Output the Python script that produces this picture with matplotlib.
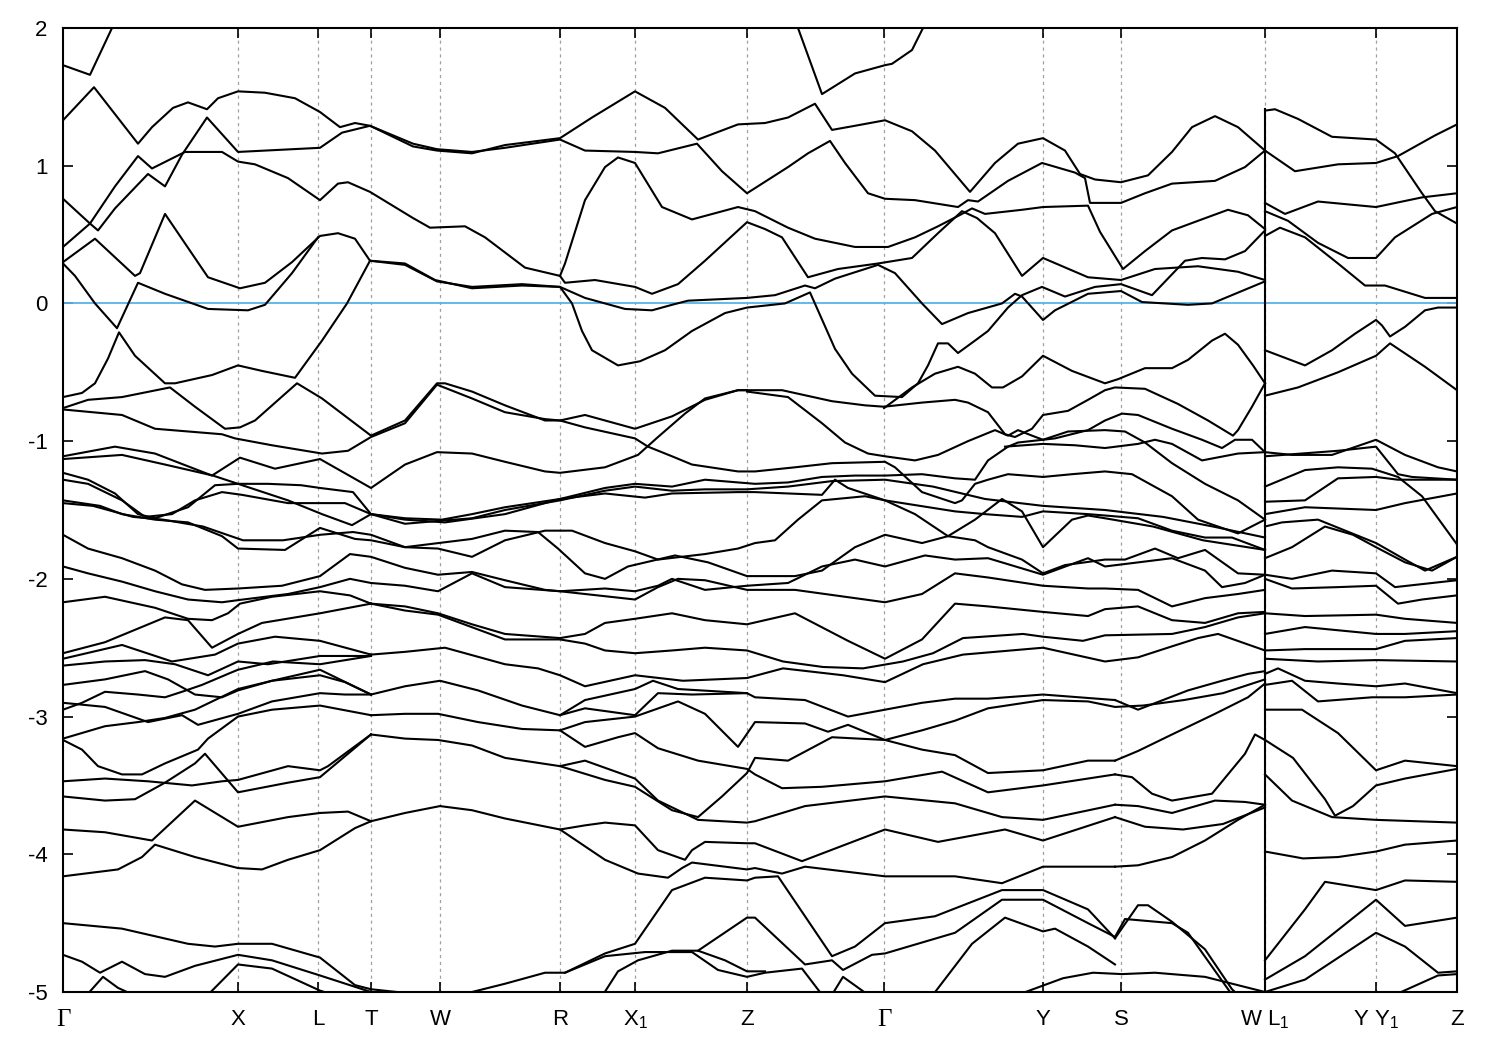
import matplotlib
matplotlib.use('Agg')
import matplotlib.pyplot as plt

plt.rcParams['font.family'] = ['Liberation Sans', 'DejaVu Sans']
plt.rcParams['axes.unicode_minus'] = False
plt.rcParams['mathtext.fontset'] = 'custom'
plt.rcParams['mathtext.rm'] = 'Liberation Sans'
plt.rcParams['mathtext.it'] = 'Liberation Sans'

# k-path (k-point index) of the high-symmetry points
k_ticks = [0, 175, 255, 308, 377, 497, 572, 684, 821, 980, 1058, 1202, 1313, 1394]
k_labels = ['Γ', 'X', 'L', 'T', 'W', 'R', 'X$_1$', 'Z', 'Γ', 'Y', 'S', 'W L$_1$', 'Y Y$_1$', 'Z']
e_fermi = 0.0
e_min, e_max = -5.0, 2.0
jump_edges = [1.41, -5.0]   # W|L1 discontinuity

# bands around the Fermi level, (k, E in eV)
bands_upper = [
    [(0, 1.73), (27, 1.66), (49, 2.0), (55, 2.15)],
    [(0, 1.33), (31, 1.57), (75, 1.16), (89, 1.28), (110, 1.42), (125, 1.46), (144, 1.41), (155, 1.49), (175, 1.54),
     (202, 1.53), (232, 1.49), (257, 1.39), (277, 1.28), (292, 1.31), (307, 1.29), (350, 1.14), (374, 1.11), (409, 1.09),
     (442, 1.15), (497, 1.20), (529, 1.35), (572, 1.54), (602, 1.42), (635, 1.19), (675, 1.30), (702, 1.31), (725, 1.35),
     (752, 1.45), (769, 1.26), (792, 1.29), (822, 1.33), (849, 1.25), (872, 1.11), (907, 0.81), (932, 1.02), (955, 1.16),
     (980, 1.20), (1002, 1.11), (1017, 0.94), (1032, 0.90), (1058, 0.88), (1085, 0.93), (1109, 1.10), (1129, 1.28),
     (1152, 1.36), (1175, 1.28), (1202, 1.11)],
    [(0, 0.76), (27, 0.58), (35, 0.53), (52, 0.69), (85, 0.94), (102, 0.85), (119, 1.08), (144, 1.35), (175, 1.10),
     (257, 1.13), (279, 1.24), (307, 1.29), (350, 1.16), (374, 1.12), (409, 1.10), (442, 1.13), (497, 1.19), (522, 1.11),
     (572, 1.10), (595, 1.09), (634, 1.16), (659, 0.96), (684, 0.80), (725, 0.99), (745, 1.09), (767, 1.18), (782, 1.02),
     (805, 0.80), (822, 0.76), (852, 0.75), (895, 0.70), (905, 0.75), (915, 0.74), (945, 0.89), (979, 1.02), (1012, 0.95),
     (1022, 0.91), (1027, 0.73), (1058, 0.73), (1082, 0.80), (1109, 0.87), (1152, 0.89), (1182, 0.99), (1202, 1.11)],
    [(0, 0.41), (27, 0.58), (52, 0.85), (75, 1.07), (89, 0.98), (122, 1.10), (159, 1.10), (175, 1.03), (192, 1.01),
     (225, 0.91), (257, 0.75), (275, 0.87), (285, 0.88), (307, 0.81), (350, 0.62), (367, 0.55), (402, 0.56), (422, 0.48),
     (462, 0.26), (497, 0.20), (502, 0.15), (532, 0.17), (572, 0.12), (589, 0.07), (615, 0.14), (642, 0.31), (684, 0.59),
     (702, 0.54), (719, 0.48), (745, 0.19), (775, 0.25), (815, 0.29), (849, 0.33), (875, 0.51), (899, 0.67), (914, 0.62),
     (932, 0.51), (959, 0.20), (980, 0.33), (1025, 0.19), (1058, 0.17), (1092, 0.25), (1135, 0.27), (1175, 0.23),
     (1202, 0.17)],
    [(307, 0.31), (342, 0.29), (372, 0.17), (409, 0.11), (459, 0.13), (497, 0.12), (522, 0.04), (542, 0.0),
     (562, -0.04), (589, -0.05), (609, -0.01), (625, 0.02), (684, 0.04), (712, 0.06), (742, 0.13), (752, 0.11),
     (772, 0.18), (815, 0.28), (832, 0.22), (859, 0.0), (879, -0.15), (905, -0.07), (939, 0.0), (952, 0.07), (959, 0.05),
     (980, -0.12), (992, -0.05), (1025, 0.07), (1058, 0.09), (1079, 0.01), (1125, -0.01), (1149, 0.0), (1202, 0.16)],
    [(0, 0.30), (32, 0.47), (72, 0.20), (77, 0.22), (102, 0.65), (145, 0.19), (177, 0.11), (202, 0.15), (229, 0.30),
     (257, 0.49), (275, 0.51), (292, 0.47), (307, 0.31), (342, 0.28), (374, 0.16), (409, 0.12), (459, 0.14), (497, 0.12),
     (509, 0.0), (519, -0.2), (529, -0.34), (555, -0.45), (577, -0.42), (602, -0.34), (629, -0.2), (662, -0.07),
     (684, -0.03), (722, 0.0), (747, 0.08), (772, -0.33), (789, -0.51), (812, -0.67), (839, -0.68), (855, -0.58),
     (865, -0.45), (875, -0.29), (885, -0.29), (895, -0.36), (912, -0.27), (925, -0.2), (945, -0.03), (959, 0.06),
     (979, 0.12), (1002, 0.05), (1032, 0.12), (1058, 0.14), (1089, 0.06), (1122, 0.31), (1139, 0.33), (1162, 0.32),
     (1182, 0.38), (1202, 0.53)],
    [(0, 0.29), (12, 0.20), (32, 0.0), (54, -0.18), (75, 0.15), (102, 0.07), (145, -0.04), (185, -0.05), (202, -0.01),
     (229, 0.22), (255, 0.48)],
    [(0, -0.68), (19, -0.65), (32, -0.58), (45, -0.40), (56, -0.21), (72, -0.38), (102, -0.58), (112, -0.58),
     (149, -0.52), (175, -0.45), (199, -0.49), (232, -0.54), (259, -0.27), (284, 0.0), (307, 0.31)],
    [(497, 0.20), (502, 0.29), (522, 0.75), (542, 0.99), (555, 1.06), (572, 1.02), (599, 0.70), (629, 0.61), (675, 0.70),
     (692, 0.67), (725, 0.55), (752, 0.47), (792, 0.41), (825, 0.41), (852, 0.48), (875, 0.56), (899, 0.65), (909, 0.69),
     (922, 0.65), (959, 0.68), (980, 0.70), (1025, 0.71), (1037, 0.52), (1060, 0.25), (1082, 0.38), (1109, 0.53),
     (1135, 0.60), (1165, 0.68), (1185, 0.64), (1202, 0.54)],
    [(727, 2.2), (735, 2.0), (759, 1.52), (792, 1.67), (822, 1.73), (829, 1.74), (849, 1.84), (860, 2.0), (866, 2.2)],
    [(821, -0.76), (849, -0.61), (872, -0.51), (895, -0.46), (912, -0.51), (929, -0.61), (940, -0.61), (959, -0.53),
     (980, -0.38), (1009, -0.49), (1042, -0.58), (1055, -0.55), (1082, -0.47), (1109, -0.47), (1125, -0.41),
     (1149, -0.27), (1162, -0.22), (1175, -0.30), (1190, -0.45), (1202, -0.58)],
    [(684, -0.63), (719, -0.63), (769, -0.71), (802, -0.74), (821, -0.75), (859, -0.72), (892, -0.70), (905, -0.72),
     (925, -0.79), (942, -0.95), (952, -0.97), (969, -0.91), (980, -0.81), (1005, -0.78), (1025, -0.70), (1042, -0.63),
     (1052, -0.61), (1082, -0.62), (1115, -0.73), (1145, -0.85), (1170, -0.96), (1175, -0.92), (1189, -0.75),
     (1202, -0.58)],
    [(684, -0.64), (725, -0.68), (759, -0.87), (782, -1.01), (805, -1.09), (822, -1.11), (852, -1.14), (875, -1.10),
     (905, -1.00), (932, -0.92), (945, -0.96), (955, -0.92), (969, -0.96), (980, -0.99), (992, -0.98), (1025, -0.92),
     (1042, -0.85), (1059, -0.80), (1075, -0.81), (1109, -0.91), (1139, -0.99), (1159, -1.05), (1172, -0.99),
     (1189, -0.99), (1202, -1.08)],
    [(942, -1.04), (980, -1.02), (1012, -1.03), (1042, -1.05), (1075, -1.02), (1092, -0.99), (1109, -1.02),
     (1139, -1.14), (1175, -1.09), (1202, -1.08)],
]

# valence bands between -0.7 and -2.2 eV, path Gamma -> W
bands_middle = [
    [(0, -1.11), (52, -1.04), (92, -1.09), (149, -1.25), (177, -1.12), (212, -1.20), (257, -1.13), (308, -1.34),
     (342, -1.17), (374, -1.08), (409, -1.09), (442, -1.15), (482, -1.22), (497, -1.23), (542, -1.19), (575, -1.10),
     (595, -0.97), (622, -0.80), (642, -0.69), (675, -0.63), (684, -0.63)],
    [(0, -0.76), (25, -0.70), (59, -0.68), (107, -0.61), (132, -0.75), (162, -0.91), (177, -0.90), (192, -0.85),
     (234, -0.58), (259, -0.69), (308, -0.96), (342, -0.85), (374, -0.58), (382, -0.58), (409, -0.64), (442, -0.74),
     (482, -0.85), (497, -0.85), (522, -0.81), (542, -0.85), (572, -0.91), (609, -0.82), (642, -0.70), (675, -0.63),
     (684, -0.63)],
    [(0, -0.77), (59, -0.81), (92, -0.91), (159, -0.95), (172, -0.98), (209, -1.03), (259, -1.09), (285, -1.07),
     (308, -0.97), (342, -0.87), (374, -0.59), (409, -0.69), (442, -0.79), (482, -0.84), (497, -0.85), (522, -0.90),
     (572, -0.98), (585, -1.04), (609, -1.11), (629, -1.17), (675, -1.22), (692, -1.22), (732, -1.19), (769, -1.16),
     (822, -1.15), (832, -1.19), (859, -1.37), (892, -1.45), (899, -1.43), (912, -1.31), (925, -1.28), (945, -1.24),
     (980, -1.26), (1009, -1.24), (1042, -1.22), (1069, -1.24), (1109, -1.40), (1135, -1.57), (1175, -1.67),
     (1202, -1.57)],
    [(0, -1.13), (59, -1.10), (102, -1.17), (150, -1.25), (175, -1.31), (225, -1.43), (259, -1.53), (289, -1.61),
     (308, -1.53), (342, -1.56), (379, -1.57), (409, -1.53), (442, -1.48), (497, -1.42), (542, -1.34), (572, -1.31),
     (609, -1.33), (642, -1.28), (692, -1.31), (725, -1.30), (759, -1.26), (792, -1.25), (822, -1.25), (859, -1.24),
     (892, -1.27), (912, -1.28), (925, -1.14), (945, -1.04), (955, -1.01), (980, -0.99), (1005, -0.93), (1042, -0.92),
     (1062, -0.93), (1082, -1.01), (1109, -1.16), (1142, -1.31), (1175, -1.43), (1202, -1.57)],
    [(0, -1.23), (25, -1.28), (52, -1.38), (75, -1.53), (92, -1.56), (125, -1.48), (152, -1.32), (175, -1.31),
     (205, -1.31), (238, -1.32), (257, -1.34), (290, -1.37), (308, -1.53), (342, -1.57), (382, -1.59), (442, -1.53),
     (497, -1.42), (542, -1.38), (582, -1.41), (609, -1.38), (675, -1.37), (692, -1.37), (759, -1.39), (772, -1.28),
     (785, -1.34), (822, -1.43), (892, -1.51), (922, -1.53), (959, -1.55), (980, -1.51), (1025, -1.53), (1042, -1.54),
     (1075, -1.56), (1109, -1.65), (1142, -1.70), (1169, -1.70), (1202, -1.79)],
    [(0, -1.28), (25, -1.31), (59, -1.43), (82, -1.55), (109, -1.53), (132, -1.43), (159, -1.37), (179, -1.39),
     (225, -1.45), (257, -1.45), (282, -1.45), (308, -1.53), (342, -1.60), (374, -1.58), (409, -1.56), (442, -1.50),
     (497, -1.43), (542, -1.36), (572, -1.33), (609, -1.36), (642, -1.35), (684, -1.35), (725, -1.33), (769, -1.29),
     (822, -1.28), (870, -1.33), (922, -1.42), (980, -1.47), (1042, -1.50), (1100, -1.55), (1150, -1.62),
     (1202, -1.70)],
    [(0, -1.43), (37, -1.47), (59, -1.53), (92, -1.57), (125, -1.59), (159, -1.69), (175, -1.78), (222, -1.79),
     (257, -1.63), (292, -1.71), (308, -1.72), (342, -1.77), (375, -1.78), (409, -1.84), (442, -1.72), (482, -1.65),
     (509, -1.65), (542, -1.74), (572, -1.80), (595, -1.86), (642, -1.82), (675, -1.78), (692, -1.74), (712, -1.72),
     (735, -1.57), (759, -1.43), (802, -1.40), (822, -1.43), (852, -1.53), (885, -1.69), (912, -1.72), (925, -1.77),
     (959, -1.86), (980, -1.96), (1002, -1.90), (1042, -1.86), (1062, -1.86), (1092, -1.78), (1115, -1.85),
     (1142, -1.79), (1175, -1.96), (1202, -1.97)],
    [(0, -1.45), (30, -1.47), (70, -1.55), (100, -1.57), (140, -1.62), (180, -1.72), (220, -1.72), (257, -1.68),
     (290, -1.66), (308, -1.68), (342, -1.77), (409, -1.71), (442, -1.65), (475, -1.66), (495, -1.78), (522, -1.96),
     (542, -2.00), (565, -1.91), (612, -1.83), (645, -1.88), (684, -1.98), (732, -1.98), (759, -1.94), (792, -1.77),
     (822, -1.68), (859, -1.74), (885, -1.69), (912, -1.57), (939, -1.42), (959, -1.51), (980, -1.77), (1009, -1.57),
     (1025, -1.54), (1042, -1.56), (1090, -1.62), (1140, -1.72), (1202, -1.79)],
    [(0, -1.68), (25, -1.78), (59, -1.85), (92, -1.94), (119, -2.04), (142, -2.08), (175, -2.07), (219, -2.05),
     (257, -1.98), (287, -1.82), (308, -1.84), (342, -1.92), (375, -1.97), (409, -1.95), (442, -2.01), (482, -2.08),
     (497, -2.09), (542, -2.07), (572, -2.09), (595, -2.05), (609, -2.00), (642, -2.08), (684, -2.05), (725, -2.03),
     (759, -1.91), (792, -1.86), (822, -1.91), (862, -1.83), (892, -1.86), (925, -1.85), (980, -1.97), (1025, -1.85),
     (1042, -1.91), (1109, -1.85), (1142, -1.94), (1159, -2.06), (1182, -2.03), (1202, -1.97)],
    [(0, -1.91), (25, -1.96), (59, -2.02), (92, -2.09), (125, -2.15), (159, -2.17), (180, -2.15), (225, -2.11),
     (257, -2.06), (287, -2.00), (308, -2.03), (342, -2.05), (375, -2.09), (409, -1.96), (442, -2.06), (497, -2.09),
     (572, -2.15), (595, -2.06), (615, -2.00), (642, -2.01), (684, -2.08), (732, -2.08), (822, -2.17), (859, -2.11),
     (892, -1.96), (925, -1.99), (980, -2.05), (1025, -2.07), (1042, -2.07), (1075, -2.08), (1109, -2.20),
     (1142, -2.14), (1175, -2.11), (1202, -2.08)],
    [(0, -2.17), (42, -2.13), (92, -2.21), (125, -2.29), (149, -2.30), (165, -2.25), (177, -2.18), (209, -2.13),
     (257, -2.09), (287, -2.12), (308, -2.18)],
]

# deeper valence bands, Gamma -> T
bands_gamma_t = [
    [(0, -2.54), (42, -2.46), (102, -2.28), (125, -2.30), (149, -2.50), (175, -2.40), (199, -2.32), (257, -2.25),
     (308, -2.18)],
    [(0, -2.58), (59, -2.48), (109, -2.60), (152, -2.55), (175, -2.47), (212, -2.42), (257, -2.45), (308, -2.55)],
    [(0, -2.63), (42, -2.60), (82, -2.59), (112, -2.62), (145, -2.70), (175, -2.60), (205, -2.62), (257, -2.56),
     (308, -2.56)],
    [(0, -2.77), (42, -2.73), (82, -2.67), (105, -2.73), (132, -2.84), (159, -2.86), (175, -2.81), (209, -2.74),
     (257, -2.66), (308, -2.84)],
    [(0, -2.90), (42, -2.93), (85, -3.04), (119, -2.99), (135, -3.06), (175, -2.98), (209, -2.89), (257, -2.83),
     (282, -2.84), (308, -2.84)],
    [(0, -2.95), (19, -2.90), (42, -2.82), (75, -2.84), (102, -2.86), (119, -2.82), (139, -2.77), (165, -2.69),
     (175, -2.66), (210, -2.60), (257, -2.62), (308, -2.56)],
    [(0, -3.16), (42, -3.07), (75, -3.04), (102, -3.01), (132, -2.95), (175, -2.80), (209, -2.74), (257, -2.70),
     (282, -2.75), (308, -2.84)],
    [(0, -3.17), (19, -3.24), (35, -3.36), (59, -3.42), (79, -3.42), (102, -3.34), (135, -3.24), (145, -3.16),
     (175, -3.00), (209, -2.95), (257, -2.92), (308, -2.99)],
    [(0, -3.47), (42, -3.45), (85, -3.47), (129, -3.50), (159, -3.47), (175, -3.46), (225, -3.36), (257, -3.39),
     (265, -3.36), (308, -3.13)],
    [(0, -3.58), (42, -3.61), (72, -3.60), (102, -3.48), (132, -3.34), (142, -3.27), (175, -3.55), (225, -3.48),
     (257, -3.44), (308, -3.13)],
    [(0, -3.82), (42, -3.84), (89, -3.90), (132, -3.61), (175, -3.80), (225, -3.73), (257, -3.70), (285, -3.69),
     (308, -3.76)],
    [(0, -4.16), (55, -4.11), (79, -4.02), (92, -3.93), (132, -4.02), (175, -4.10), (199, -4.11), (225, -4.04),
     (257, -3.97), (292, -3.81), (308, -3.76)],
    [(0, -4.50), (59, -4.54), (125, -4.65), (152, -4.67), (175, -4.65), (209, -4.65), (257, -4.75), (292, -4.95),
     (308, -4.98), (360, -5.02)],
    [(0, -4.73), (19, -4.78), (37, -4.86), (59, -4.78), (82, -4.87), (102, -4.89), (132, -4.81), (175, -4.73),
     (209, -4.77), (257, -4.88), (308, -5.0)],
    [(24, -5.02), (40, -4.89), (55, -4.97), (70, -5.02)],
    [(145, -5.02), (175, -4.80), (209, -4.83), (257, -4.99), (270, -5.02)],
]

# deeper valence bands, T -> Z -> Gamma -> Y
bands_t_y = [
    [(308, -2.84), (342, -2.78), (377, -2.74), (415, -2.81), (459, -2.92), (497, -2.99), (522, -2.94), (572, -2.99),
     (595, -2.83), (629, -2.84), (684, -2.83), (692, -2.86), (742, -2.88), (785, -3.00), (822, -2.95), (859, -2.90),
     (892, -2.87), (925, -2.87), (980, -2.84), (1052, -2.88)],
    [(308, -2.99), (342, -2.98), (375, -2.98), (415, -3.04), (459, -3.09), (497, -3.10), (522, -3.22), (555, -3.15),
     (572, -3.12), (595, -3.23), (635, -3.32), (684, -3.38), (692, -3.42), (719, -3.52), (759, -3.51), (822, -3.47),
     (879, -3.40), (925, -3.55), (980, -3.50), (1052, -3.42)],
    [(308, -3.13), (342, -3.16), (375, -3.17), (409, -3.21), (442, -3.30), (497, -3.36), (522, -3.32), (572, -3.45),
     (595, -3.61), (635, -3.75), (684, -3.77), (692, -3.76), (742, -3.65), (822, -3.58), (892, -3.63), (939, -3.73),
     (980, -3.75), (1052, -3.64)],
    [(497, -3.36), (542, -3.46), (572, -3.51), (609, -3.68), (635, -3.73), (659, -3.58), (684, -3.41), (692, -3.30),
     (725, -3.32), (769, -3.15), (822, -3.17), (859, -3.10), (892, -3.03), (925, -2.94), (980, -2.88), (1025, -2.89),
     (1052, -2.93), (1080, -2.92), (1121, -2.88), (1160, -2.83), (1202, -2.73)],
    [(497, -3.10), (522, -3.04), (572, -3.00), (615, -2.89), (642, -2.98), (675, -3.22), (692, -3.04), (742, -3.05),
     (765, -3.11), (785, -3.06), (822, -3.17), (859, -3.24), (892, -3.28), (925, -3.41), (980, -3.39), (1025, -3.32),
     (1052, -3.32)],
    [(497, -2.99), (522, -2.88), (572, -2.80), (590, -2.74), (615, -2.80), (684, -2.83)],
    [(308, -3.76), (342, -3.70), (377, -3.65), (409, -3.68), (442, -3.74), (497, -3.82), (522, -3.79), (542, -3.77),
     (572, -3.79), (595, -3.97), (622, -4.04), (629, -3.97), (642, -3.91), (684, -3.92), (692, -3.92), (739, -4.05),
     (822, -3.82), (875, -3.91), (942, -3.82), (980, -3.90), (1052, -3.73)],
    [(497, -3.82), (542, -4.04), (575, -4.14), (605, -4.17), (619, -4.10), (629, -4.06), (684, -4.11), (692, -4.10),
     (719, -4.14), (742, -4.09), (822, -4.16), (892, -4.16), (939, -4.21), (980, -4.09), (1052, -4.09)],
    [(346, -5.02), (409, -5.0), (442, -4.94), (482, -4.86), (502, -4.86), (542, -4.72), (572, -4.65), (609, -4.26),
     (642, -4.17), (684, -4.19), (692, -4.17), (715, -4.16), (769, -4.74), (792, -4.67), (822, -4.50), (872, -4.45),
     (939, -4.26), (980, -4.26), (1025, -4.40), (1052, -4.61)],
    [(502, -4.86), (542, -4.74), (582, -4.71), (629, -4.71), (655, -4.84), (684, -4.89), (702, -4.86), (739, -4.83),
     (759, -5.02)],
    [(540, -5.02), (555, -4.85), (575, -4.77), (609, -4.70), (635, -4.70), (662, -4.77), (684, -4.85), (702, -4.85)],
    [(635, -4.70), (684, -4.46), (692, -4.46), (742, -4.80), (769, -4.77), (780, -4.84), (809, -4.73), (822, -4.72),
     (892, -4.57), (939, -4.33), (980, -4.33), (1025, -4.50), (1052, -4.60)],
    [(769, -5.02), (780, -4.89), (805, -5.02)],
    [(870, -5.02), (909, -4.65), (942, -4.46), (980, -4.56), (992, -4.54), (1025, -4.67), (1052, -4.80)],
    [(308, -2.18), (342, -2.20), (375, -2.25), (409, -2.33), (442, -2.40), (497, -2.43), (522, -2.40), (542, -2.32),
     (572, -2.29), (609, -2.25), (642, -2.30), (684, -2.33), (732, -2.25), (785, -2.45), (822, -2.58), (859, -2.44),
     (892, -2.18), (925, -2.20), (980, -2.24), (1025, -2.27), (1042, -2.22), (1075, -2.20), (1109, -2.30),
     (1142, -2.32), (1175, -2.25), (1202, -2.24)],
    [(308, -2.18), (342, -2.23), (375, -2.26), (442, -2.44), (497, -2.44), (522, -2.47), (542, -2.52), (572, -2.54),
     (609, -2.52), (642, -2.50), (684, -2.52), (720, -2.60), (760, -2.64), (800, -2.65), (840, -2.60), (870, -2.54),
     (900, -2.43), (960, -2.40), (980, -2.42), (1020, -2.45), (1042, -2.41), (1109, -2.40), (1142, -2.35),
     (1175, -2.28), (1202, -2.25)],
    [(308, -2.55), (342, -2.53), (382, -2.50), (442, -2.62), (475, -2.65), (497, -2.70), (522, -2.78), (572, -2.70),
     (620, -2.74), (684, -2.72), (720, -2.65), (780, -2.70), (822, -2.75), (860, -2.62), (900, -2.55), (980, -2.50),
     (1042, -2.60), (1075, -2.57), (1109, -2.49), (1135, -2.43), (1155, -2.40), (1202, -2.52)],
]

# deeper valence bands, Y -> S -> W
bands_y_w = [
    [(1052, -2.88), (1075, -2.95), (1125, -2.81), (1159, -2.74), (1185, -2.69), (1202, -2.67)],
    [(1052, -3.32), (1075, -3.25), (1109, -3.13), (1152, -2.98), (1185, -2.86), (1202, -2.76)],
    [(1052, -3.42), (1069, -3.44), (1089, -3.56), (1109, -3.61), (1149, -3.56), (1182, -3.27), (1192, -3.13),
     (1202, -3.17)],
    [(1052, -3.64), (1075, -3.65), (1109, -3.70), (1152, -3.61), (1182, -3.62), (1202, -3.64)],
    [(1052, -4.09), (1075, -4.08), (1109, -4.02), (1142, -3.90), (1175, -3.75), (1202, -3.64)],
    [(1052, -3.73), (1082, -3.80), (1120, -3.82), (1160, -3.78), (1202, -3.66)],
    [(1052, -4.61), (1075, -4.37), (1085, -4.37), (1109, -4.49), (1142, -4.69), (1169, -4.98), (1175, -5.02)],
    [(1052, -4.60), (1062, -4.47), (1109, -4.50), (1125, -4.57), (1169, -5.02)],
    [(955, -5.02), (1000, -4.90), (1030, -4.86), (1059, -4.87), (1092, -4.86), (1142, -4.89), (1202, -5.0)],
]

# bands along L1 -> Y|Y1 -> Z
bands_tail = [
    [(1202, 1.40), (1212, 1.41), (1235, 1.34), (1269, 1.21), (1313, 1.19), (1332, 1.09), (1359, 0.80), (1372, 0.67),
     (1394, 0.58)],
    [(1202, 1.11), (1232, 0.96), (1275, 1.01), (1313, 1.02), (1335, 1.07), (1372, 1.22), (1394, 1.30)],
    [(1202, 0.73), (1222, 0.65), (1255, 0.74), (1313, 0.70), (1359, 0.77), (1394, 0.80)],
    [(1202, 0.67), (1225, 0.60), (1255, 0.44), (1285, 0.33), (1313, 0.33), (1332, 0.48), (1369, 0.65), (1394, 0.70)],
    [(1202, 0.49), (1217, 0.55), (1242, 0.48), (1275, 0.29), (1302, 0.13), (1322, 0.13), (1362, 0.04), (1394, 0.04)],
    [(1202, -0.34), (1242, -0.45), (1269, -0.34), (1292, -0.22), (1313, -0.12), (1319, -0.16), (1327, -0.24),
     (1342, -0.17), (1362, -0.05), (1375, -0.03), (1394, -0.03)],
    [(1202, -0.67), (1235, -0.61), (1275, -0.50), (1313, -0.38), (1327, -0.29), (1362, -0.46), (1394, -0.63)],
    [(1202, -1.08), (1229, -1.10), (1269, -1.10), (1313, -0.99), (1342, -1.10), (1375, -1.19), (1394, -1.22)],
    [(1202, -1.11), (1275, -1.07), (1313, -1.04), (1335, -1.24), (1349, -1.26), (1394, -1.28)],
    [(1202, -1.33), (1242, -1.21), (1275, -1.19), (1309, -1.20), (1335, -1.26), (1359, -1.40), (1394, -1.75)],
    [(1202, -1.44), (1242, -1.43), (1275, -1.27), (1313, -1.26), (1335, -1.28), (1394, -1.28)],
    [(1202, -1.53), (1242, -1.48), (1313, -1.50), (1342, -1.45), (1394, -1.38)],
    [(1202, -1.62), (1219, -1.59), (1255, -1.57), (1313, -1.74), (1342, -1.86), (1362, -1.94), (1394, -1.84)],
    [(1202, -1.85), (1229, -1.77), (1262, -1.62), (1290, -1.68), (1313, -1.77), (1342, -1.88), (1369, -1.94),
     (1394, -1.84)],
    [(1202, -1.97), (1229, -2.00), (1269, -1.94), (1313, -1.96), (1332, -2.06), (1394, -2.01)],
    [(1202, -2.00), (1229, -2.07), (1275, -2.06), (1313, -2.05), (1335, -2.18), (1359, -2.15), (1394, -2.12)],
    [(1202, -2.25), (1242, -2.27), (1313, -2.26), (1342, -2.29), (1394, -2.32)],
    [(1202, -2.40), (1242, -2.35), (1313, -2.40), (1342, -2.40), (1394, -2.38)],
    [(1202, -2.52), (1242, -2.51), (1313, -2.51), (1342, -2.45), (1394, -2.43)],
    [(1202, -2.58), (1255, -2.60), (1313, -2.59), (1394, -2.60)],
    [(1202, -2.69), (1215, -2.65), (1242, -2.74), (1275, -2.76), (1313, -2.78), (1342, -2.76), (1394, -2.83)],
    [(1202, -2.77), (1229, -2.74), (1255, -2.89), (1309, -2.86), (1342, -2.86), (1394, -2.84)],
    [(1202, -2.95), (1239, -2.95), (1275, -3.12), (1313, -3.39), (1342, -3.32), (1394, -3.36)],
    [(1202, -3.17), (1230, -3.30), (1262, -3.60), (1272, -3.72), (1290, -3.65), (1313, -3.50), (1342, -3.45),
     (1394, -3.38)],
    [(1202, -3.42), (1229, -3.61), (1269, -3.73), (1313, -3.75), (1394, -3.77)],
    [(1202, -3.98), (1240, -4.03), (1275, -4.02), (1313, -3.98), (1342, -3.93), (1394, -3.90)],
    [(1202, -4.77), (1242, -4.40), (1262, -4.20), (1313, -4.26), (1342, -4.19), (1394, -4.20)],
    [(1202, -4.91), (1242, -4.74), (1313, -4.33), (1342, -4.52), (1394, -4.46)],
    [(1202, -5.0), (1242, -4.91), (1313, -4.57), (1342, -4.67), (1375, -4.86), (1394, -4.85)],
    [(1332, -5.02), (1375, -4.88), (1394, -4.87)],
]

fig = plt.figure(figsize=(15, 10.5), dpi=100)
ax = fig.add_axes([63 / 1500, 58 / 1050, 1394 / 1500, 964 / 1050])

for group in (bands_upper, bands_middle, bands_gamma_t, bands_t_y, bands_y_w, bands_tail):
    for band in group:
        ks, es = zip(*band)
        ax.plot(ks, es, color='black', lw=1.5, solid_joinstyle='round', zorder=3)

ax.plot([k_ticks[11], k_ticks[11]], jump_edges, color='black', lw=1.5, zorder=3)
ax.axhline(e_fermi, color='#56b4e9', lw=1.3, zorder=2)

for k in k_ticks[1:-1]:
    ax.axvline(k, color='#a0a0a0', lw=0.9, ls=(0, (2.5, 3)), zorder=1)

ax.set_xlim(k_ticks[0], k_ticks[-1])
ax.set_ylim(e_min, e_max)
ax.set_xticks(k_ticks)
ax.set_xticklabels(k_labels)
ax.set_yticks(range(-5, 3))
ax.set_yticklabels([str(v) for v in range(-5, 3)])
ax.tick_params(axis='both', direction='in', length=7, width=1.2, top=True, right=True, labelsize=16)
ax.tick_params(axis='x', pad=12)
ax.tick_params(axis='y', pad=11)
for lab in ax.get_xticklabels():
    if lab.get_text() == 'Γ':
        lab.set_fontfamily('Liberation Serif')
        lab.set_fontsize(18)
for s in ax.spines.values():
    s.set_linewidth(1.5)

fig.savefig('out.png', dpi=100)
